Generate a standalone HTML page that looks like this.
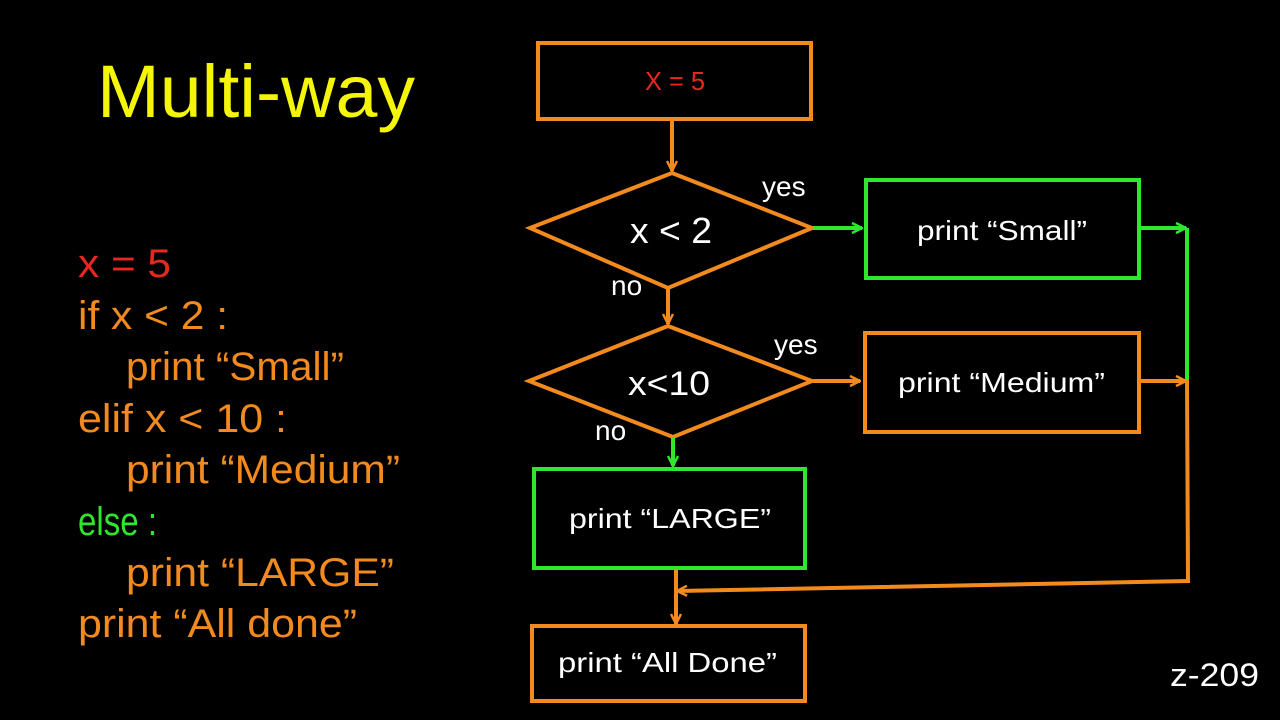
<!DOCTYPE html>
<html><head><meta charset="utf-8"><style>
html,body{margin:0;padding:0;background:#000;}
svg{display:block;}
text{font-family:"Liberation Sans",Arial,sans-serif;}
</style></head><body>
<svg width="1280" height="720" viewBox="0 0 1280 720" xmlns="http://www.w3.org/2000/svg">
<rect width="1280" height="720" fill="#000"/>
<defs>
<marker id="ao" viewBox="0 0 12 12" refX="11" refY="6" markerWidth="12" markerHeight="12" markerUnits="userSpaceOnUse" orient="auto"><path d="M1,1 L11,6 L1,11" fill="none" stroke="#f28a1e" stroke-width="2.5"/></marker>
<marker id="ag" viewBox="0 0 12 12" refX="11" refY="6" markerWidth="12" markerHeight="12" markerUnits="userSpaceOnUse" orient="auto"><path d="M1,1 L11,6 L1,11" fill="none" stroke="#2ee82e" stroke-width="2.5"/></marker>
</defs>
<text x="97" y="117" font-size="74" fill="#f5f50a" textLength="318" lengthAdjust="spacingAndGlyphs">Multi-way</text>
<g font-size="40">
<text x="78" y="277" fill="#e8281e" textLength="93" lengthAdjust="spacingAndGlyphs">x = 5</text>
<text x="78" y="329" fill="#f28a1e" textLength="150" lengthAdjust="spacingAndGlyphs">if x &lt; 2 :</text>
<text x="126" y="380" fill="#f28a1e" textLength="218" lengthAdjust="spacingAndGlyphs">print “Small”</text>
<text x="78" y="432" fill="#f28a1e" textLength="209" lengthAdjust="spacingAndGlyphs">elif x &lt; 10 :</text>
<text x="126" y="483" fill="#f28a1e" textLength="274" lengthAdjust="spacingAndGlyphs">print “Medium”</text>
<text x="78" y="535" fill="#2ee82e" textLength="79" lengthAdjust="spacingAndGlyphs">else :</text>
<text x="126" y="586" fill="#f28a1e" textLength="268" lengthAdjust="spacingAndGlyphs">print “LARGE”</text>
<text x="78" y="637" fill="#f28a1e" textLength="279" lengthAdjust="spacingAndGlyphs">print “All done”</text>
</g>
<g fill="none" stroke-width="4">
<rect x="538" y="43" width="273" height="76" stroke="#f28a1e"/>
<line x1="672" y1="120" x2="672" y2="171" stroke="#f28a1e" marker-end="url(#ao)"/>
<polygon points="672,173 812,228 668,288 530,228" stroke="#f28a1e"/>
<line x1="813" y1="228" x2="862" y2="228" stroke="#2ee82e" marker-end="url(#ag)"/>
<rect x="866" y="180" width="273" height="98" stroke="#2ee82e"/>
<line x1="1140" y1="228" x2="1186" y2="228" stroke="#2ee82e" marker-end="url(#ag)"/>
<line x1="1187" y1="228" x2="1187" y2="380" stroke="#2ee82e"/>
<line x1="668" y1="288" x2="668" y2="324" stroke="#f28a1e" marker-end="url(#ao)"/>
<polygon points="668,326 812,381 673,437 529,381" stroke="#f28a1e"/>
<line x1="813" y1="381" x2="860" y2="381" stroke="#f28a1e" marker-end="url(#ao)"/>
<rect x="865" y="333" width="274" height="99" stroke="#f28a1e"/>
<line x1="1140" y1="381" x2="1186" y2="381" stroke="#f28a1e" marker-end="url(#ao)"/>
<polyline points="1187,380 1188,581 677,591" stroke="#f28a1e" marker-end="url(#ao)"/>
<line x1="673" y1="437" x2="673" y2="466" stroke="#2ee82e" marker-end="url(#ag)"/>
<rect x="534" y="469" width="271" height="99" stroke="#2ee82e"/>
<line x1="676" y1="569" x2="676" y2="624" stroke="#f28a1e" marker-end="url(#ao)"/>
<rect x="532" y="626" width="273" height="75" stroke="#f28a1e"/>
</g>
<text x="645" y="90" font-size="26" fill="#e8281e" textLength="60" lengthAdjust="spacingAndGlyphs">X = 5</text>
<text x="630" y="243" font-size="36" fill="#fff" textLength="82" lengthAdjust="spacingAndGlyphs">x &lt; 2</text>
<text x="628" y="395" font-size="34" fill="#fff" textLength="82" lengthAdjust="spacingAndGlyphs">x&lt;10</text>
<g font-size="28" fill="#fff">
<text x="762" y="196">yes</text>
<text x="611" y="295">no</text>
<text x="774" y="354">yes</text>
<text x="595" y="440">no</text>
<text x="917" y="240" textLength="170" lengthAdjust="spacingAndGlyphs">print “Small”</text>
<text x="898" y="392" textLength="207" lengthAdjust="spacingAndGlyphs">print “Medium”</text>
<text x="569" y="528" textLength="202" lengthAdjust="spacingAndGlyphs">print “LARGE”</text>
<text x="558" y="672" textLength="219" lengthAdjust="spacingAndGlyphs">print “All Done”</text>
</g>
<text x="1170" y="686" font-size="32" fill="#fff" textLength="89" lengthAdjust="spacingAndGlyphs">z-209</text>
</svg>
</body></html>
